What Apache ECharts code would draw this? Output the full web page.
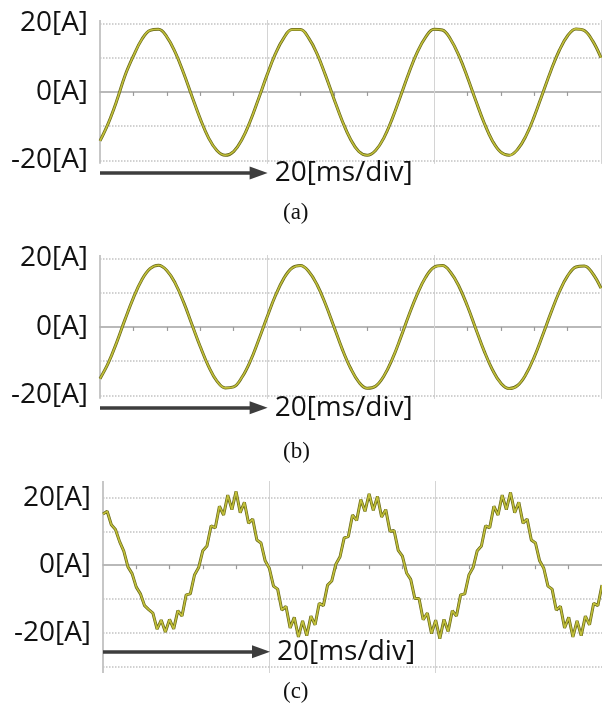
<!DOCTYPE html>
<html>
<head>
<meta charset="utf-8">
<script src="https://cdn.jsdelivr.net/npm/echarts@6/dist/echarts.min.js"></script>
<style>
  html, body { margin: 0; padding: 0; background: #fff; }
  #chart { width: 602px; height: 708px; }
</style>
</head>
<body>
<div id="chart"></div>
<script>
(function () {
  // sample spacing of the captured traces, in ms
  const stepAB = 1;
  const stepC = 0.5;

  // phase current, trace (a) [A]
  const currentA = [
    -14.3, -9.1, -2.6, 4.8, 10.5, 15.3, 18.0, 18.3, 16.1, 11.6,
    5.6, -1.2, -7.8, -13.4, -17.1, -18.5, -17.4, -13.9, -8.5, -1.9,
    4.9, 11.1, 15.7, 18.2, 18.2, 15.7, 11.1, 4.9, -1.9, -8.4,
    -13.8, -17.4, -18.5, -17.1, -13.4, -7.8, -1.2, 5.6, 11.6, 16.0,
    18.3, 18.1, 15.3, 10.5, 4.3, -2.5, -9.0, -14.3, -17.6, -18.5,
    -16.8, -12.9, -7.2, -0.5, 6.2, 12.1, 16.4, 18.4, 17.9, 14.9, 10.0
  ];

  // phase current, trace (b) [A]
  const currentB = [
    -15.1, -10.5, -4.5, 2.2, 8.5, 13.7, 17.0, 18.0, 16.5, 12.8,
    7.3, 0.8, -5.7, -11.5, -15.8, -17.8, -17.5, -14.7, -10.0, -3.8,
    2.8, 9.1, 14.1, 17.2, 17.9, 16.2, 12.3, 6.7, 0.2, -6.4,
    -12.0, -16.1, -17.9, -17.3, -14.3, -9.4, -3.2, 3.5, 9.6, 14.5,
    17.4, 17.9, 15.9, 11.8, 6.1, -0.5, -7.0, -12.5, -16.4, -18.0,
    -17.1, -13.9, -8.8, -2.5, 4.1, 10.2, 14.9, 17.5, 17.8, 15.6, 11.3
  ];

  // phase current, trace (c) with switching ripple [A]
  const currentC = [
    15.2, 16.0, 12.0, 10.6, 7.0, 4.2, -0.5, -2.5, -6.5, -8.5,
    -12.0, -13.2, -14.2, -19.0, -16.3, -19.8, -16.1, -18.9, -13.5, -15.1,
    -8.8, -8.5, -2.9, -0.7, 4.3, 5.7, 11.7, 11.1, 17.5, 14.9,
    20.8, 16.5, 21.9, 15.6, 18.7, 12.5, 13.7, 7.5, 6.6, 1.3,
    -0.9, -6.2, -7.1, -13.3, -12.2, -18.6, -15.5, -21.3, -16.5, -20.9,
    -15.1, -17.7, -11.3, -12.0, -5.9, -4.7, 0.3, 2.5, 8.1, 8.5,
    14.9, 13.3, 19.5, 16.0, 21.2, 16.3, 20.4, 14.3, 16.5, 10.1,
    10.3, 4.4, 2.7, -2.3, -4.2, -9.9, -9.9, -16.2, -14.2, -20.3,
    -16.3, -21.8, -16.1, -19.7, -13.5, -15.1, -8.8, -8.5, -2.9, -0.7,
    4.3, 5.7, 11.7, 11.1, 17.5, 14.9, 20.8, 16.5, 21.6, 15.6,
    18.7, 12.5, 13.7, 7.5, 6.6, 1.3, -0.9, -6.2, -7.1, -13.3,
    -12.2, -18.6, -15.5, -21.3, -16.5, -20.9, -15.1, -17.7, -11.3, -12.0,
    -5.9
  ];

  const ampLabels = [-20, 0, 20];
  const gridAB = [20, 10, -10, -20];
  const gridC = [20, 10, -10, -20, -30];
  const divLines = [0, 20, 40, 60];
  const captions = ['(a)', '(b)', '(c)'];
  const timeLabel = '20[ms/div]';

  const panels = [
    { data: currentA, step: stepAB, hLines: gridAB, left: 100, top: 20, height: 161,
      min: -26, max: 21, vEnds: [-21, 21], arrowY: -23.7, capTop: 201, smooth: 0.4 },
    { data: currentB, step: stepAB, hLines: gridAB, left: 100, top: 255, height: 161,
      min: -26, max: 21, vEnds: [-21, 21], arrowY: -23.6, capTop: 440, smooth: 0.4 },
    { data: currentC, step: stepC, hLines: gridC, left: 103, top: 481, height: 192,
      min: -32, max: 25, vEnds: [-32, 25], arrowY: -25.7, capTop: 680, smooth: false }
  ];

  const txt = { fontFamily: 'Open Sans', fontSize: 28, color: '#111' };

  const chart = echarts.init(document.getElementById('chart'));
  const series = [];

  panels.forEach((p, i) => {
    const pts = p.data.map((v, k) => [k * p.step, v]);

    // grid lines + time arrow, drawn under the trace
    const lines = [];
    divLines.forEach(x => {
      lines.push([
        { coord: [x, p.vEnds[0]], lineStyle: { type: 'solid', color: x === 0 ? '#b4b4b4' : '#d4d4d4', width: x === 0 ? 1.5 : 1 } },
        { coord: [x, p.vEnds[1]] }
      ]);
    });
    p.hLines.forEach(v => {
      lines.push([
        { coord: [0, v], lineStyle: { type: 'dotted', color: '#c2c2c2', width: 1.5 } },
        { coord: [60, v] }
      ]);
    });
    lines.push([
      { coord: [0, p.arrowY], lineStyle: { type: 'solid', color: '#3d3d3d', width: 3.5 } },
      { coord: [19, p.arrowY], symbol: 'triangle', symbolSize: [13, 18],
        label: Object.assign({ show: true, position: 'end', distance: 16, formatter: timeLabel }, txt) }
    ]);

    series.push({
      type: 'line', xAxisIndex: i, yAxisIndex: i, data: pts,
      symbol: 'none', smooth: p.smooth, z: 3,
      lineStyle: { color: '#67671a', width: 3 },
      markLine: { silent: true, symbol: 'none', z: 1, animation: false, label: { show: false }, data: lines }
    });
    series.push({
      type: 'line', xAxisIndex: i, yAxisIndex: i, data: pts,
      symbol: 'none', smooth: p.smooth, z: 4,
      lineStyle: { color: '#c2c03a', width: 1.6 }
    });
  });

  chart.setOption({
    animation: false,
    backgroundColor: '#fff',
    title: captions.map((c, i) => ({
      text: c, left: 283, top: panels[i].capTop, padding: 0,
      textStyle: { fontFamily: 'Liberation Serif', fontSize: 23, fontWeight: 'normal', color: '#111' }
    })),
    grid: panels.map(p => ({ left: p.left, top: p.top, width: 501, height: p.height })),
    xAxis: panels.map((p, i) => ({
      gridIndex: i, type: 'value', min: 0, max: 60, interval: 20,
      axisLabel: { show: false }, axisTick: { show: false }, splitLine: { show: false },
      axisLine: { onZero: true, lineStyle: { color: '#a3a3a3', width: 1.5 } },
      minorTick: { show: true, splitNumber: 5, length: 4, lineStyle: { color: '#9a9a9a', width: 1.2 } }
    })),
    yAxis: panels.map((p, i) => ({
      gridIndex: i, type: 'value', min: p.min, max: p.max,
      axisLine: { show: false }, axisTick: { show: false }, splitLine: { show: false },
      axisLabel: Object.assign({ customValues: ampLabels, formatter: v => v + '[A]', margin: 12 }, txt)
    })),
    series: series
  });
})();
</script>
</body>
</html>
